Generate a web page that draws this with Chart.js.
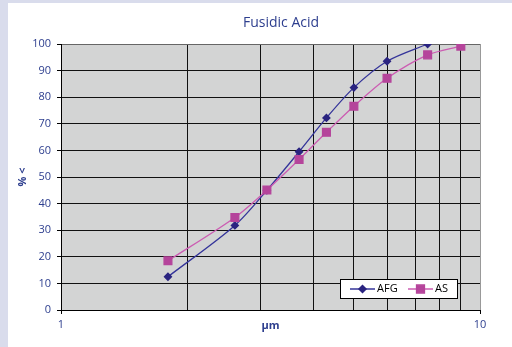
<!DOCTYPE html>
<html>
<head>
<meta charset="utf-8">
<script src="https://cdn.jsdelivr.net/npm/chart.js"></script>
<style>
  html, body { margin: 0; padding: 0; background: #d9dcec; }
  #wrap { width: 512px; height: 347px; }
</style>
</head>
<body>
<div id="wrap"><canvas id="psd" width="512" height="347"></canvas></div>
<script>
// particle size (µm) and cumulative % <
const afgSize = [1.8, 2.6, 3.1, 3.7, 4.3, 5.0, 6.0, 7.5];
const afgPct  = [12.5, 31.8, 45.0, 59.5, 72.2, 83.6, 93.5, 100];
const asSize  = [1.8, 2.6, 3.1, 3.7, 4.3, 5.0, 6.0, 7.5, 9.0];
const asPct   = [18.5, 34.8, 45.1, 56.6, 66.8, 76.6, 87.1, 95.9, 99.2];
const xGridTicks = [1, 2, 3, 4, 5, 6, 7, 8, 9, 10];
const xLabelTicks = [1, 10];
const chartTitle = 'Fusidic Acid';

const navy = '#2d3e8e';
const toPts = (xs, ys) => xs.map((x, i) => ({x: x, y: ys[i]}));

// panel + plot background, title
const bgPlugin = {
  id: 'bg',
  beforeDraw(chart) {
    const {ctx, chartArea: a} = chart;
    ctx.save();
    ctx.fillStyle = '#d9dcec';
    ctx.fillRect(0, 0, chart.width, chart.height);
    ctx.fillStyle = '#ffffff';
    ctx.fillRect(8, 3, chart.width - 8, chart.height - 3);
    ctx.fillStyle = '#d3d4d4';
    ctx.fillRect(a.left, a.top, a.right - a.left + 1, a.bottom - a.top);
    ctx.fillStyle = navy;
    ctx.font = '14px "Open Sans"';
    ctx.textAlign = 'center';
    ctx.textBaseline = 'middle';
    ctx.fillText(chartTitle, 281, 23);
    ctx.restore();
  }
};

// boxed legend inside the plot, bottom right
const boxLegend = {
  id: 'boxLegend',
  afterDatasetsDraw(chart) {
    const ctx = chart.ctx;
    const x0 = 340, y0 = 279, w = 117, h = 19;
    ctx.save();
    ctx.fillStyle = '#fff';
    ctx.fillRect(x0, y0, w, h);
    ctx.strokeStyle = '#000';
    ctx.lineWidth = 1;
    ctx.strokeRect(x0 + 0.5, y0 + 0.5, w, h);
    const cy = y0 + h / 2 + 0.5;
    let x = x0 + 10;
    chart.data.datasets.forEach(ds => {
      ctx.strokeStyle = ds.borderColor;
      ctx.lineWidth = 1.5;
      ctx.beginPath();
      ctx.moveTo(x, cy);
      ctx.lineTo(x + 25, cy);
      ctx.stroke();
      ctx.fillStyle = ds.pointBackgroundColor;
      ctx.strokeStyle = ds.pointBorderColor;
      Chart.helpers.drawPoint(ctx, {
        pointStyle: ds.pointStyle, radius: ds.pointRadius, borderWidth: 1
      }, x + 12.5, cy);
      ctx.fillStyle = '#000';
      ctx.font = '11px "Open Sans"';
      ctx.textAlign = 'left';
      ctx.textBaseline = 'middle';
      ctx.fillText(ds.label, x + 27, cy);
      x += 58;
    });
    ctx.restore();
  }
};

const chart = new Chart(document.getElementById('psd'), {
  type: 'line',
  data: {
    datasets: [
      {
        label: 'AFG',
        data: toPts(afgSize, afgPct),
        borderColor: '#34349a',
        backgroundColor: '#2a2480',
        pointBackgroundColor: '#2a2480',
        pointBorderColor: '#2a2480',
        pointStyle: 'rectRot',
        pointRadius: 3.5,
        borderWidth: 1.3,
        tension: 0.3,
        order: 1
      },
      {
        label: 'AS',
        data: toPts(asSize, asPct),
        borderColor: '#cc5cb2',
        backgroundColor: '#b5449b',
        pointBackgroundColor: '#b5449b',
        pointBorderColor: '#b5449b',
        pointStyle: 'rect',
        pointRadius: 5.5,
        borderWidth: 1.3,
        tension: 0.3,
        order: 0
      }
    ]
  },
  options: {
    responsive: false,
    animation: false,
    events: [],
    layout: { padding: { left: 8, top: 44, right: 32, bottom: 15 } },
    plugins: {
      legend: { display: false },
      tooltip: { enabled: false },
      title: { display: false }
    },
    scales: {
      x: {
        type: 'logarithmic',
        min: 1,
        max: 10,
        afterBuildTicks(s) { s.ticks = xGridTicks.map(v => ({value: v})); },
        afterFit(s) { s.height = 22; },
        border: { color: '#000', width: 1 },
        grid: {
          color: c => (c.tick && c.tick.value === 10) ? '#999' : '#111',
          tickColor: c => (c.tick && xLabelTicks.includes(c.tick.value)) ? '#000' : 'rgba(0,0,0,0)',
          tickLength: 4,
          lineWidth: 1
        },
        ticks: {
          autoSkip: false,
          maxRotation: 0,
          padding: 4,
          color: navy,
          font: { family: 'Open Sans', size: 11 },
          callback: v => xLabelTicks.includes(v) ? String(v) : ''
        },
        title: {
          display: true,
          text: 'µm',
          color: navy,
          font: { family: 'Open Sans', size: 11, weight: 'bold' },
          padding: { top: 0, bottom: 0 }
        }
      },
      y: {
        min: 0,
        max: 100,
        afterFit(s) { s.width = 53; },
        border: { color: '#000', width: 1 },
        grid: {
          color: c => (c.tick && c.tick.value === 100) ? '#666' : '#111',
          tickColor: '#000',
          tickLength: 4,
          lineWidth: 1
        },
        ticks: {
          stepSize: 10,
          padding: 6,
          color: navy,
          font: { family: 'Open Sans', size: 11 }
        },
        title: {
          display: true,
          text: '% <',
          color: navy,
          font: { family: 'Open Sans', size: 11, weight: 'bold' },
          padding: { top: 8, bottom: 0 }
        }
      }
    }
  },
  plugins: [bgPlugin, boxLegend]
});
</script>
</body>
</html>
